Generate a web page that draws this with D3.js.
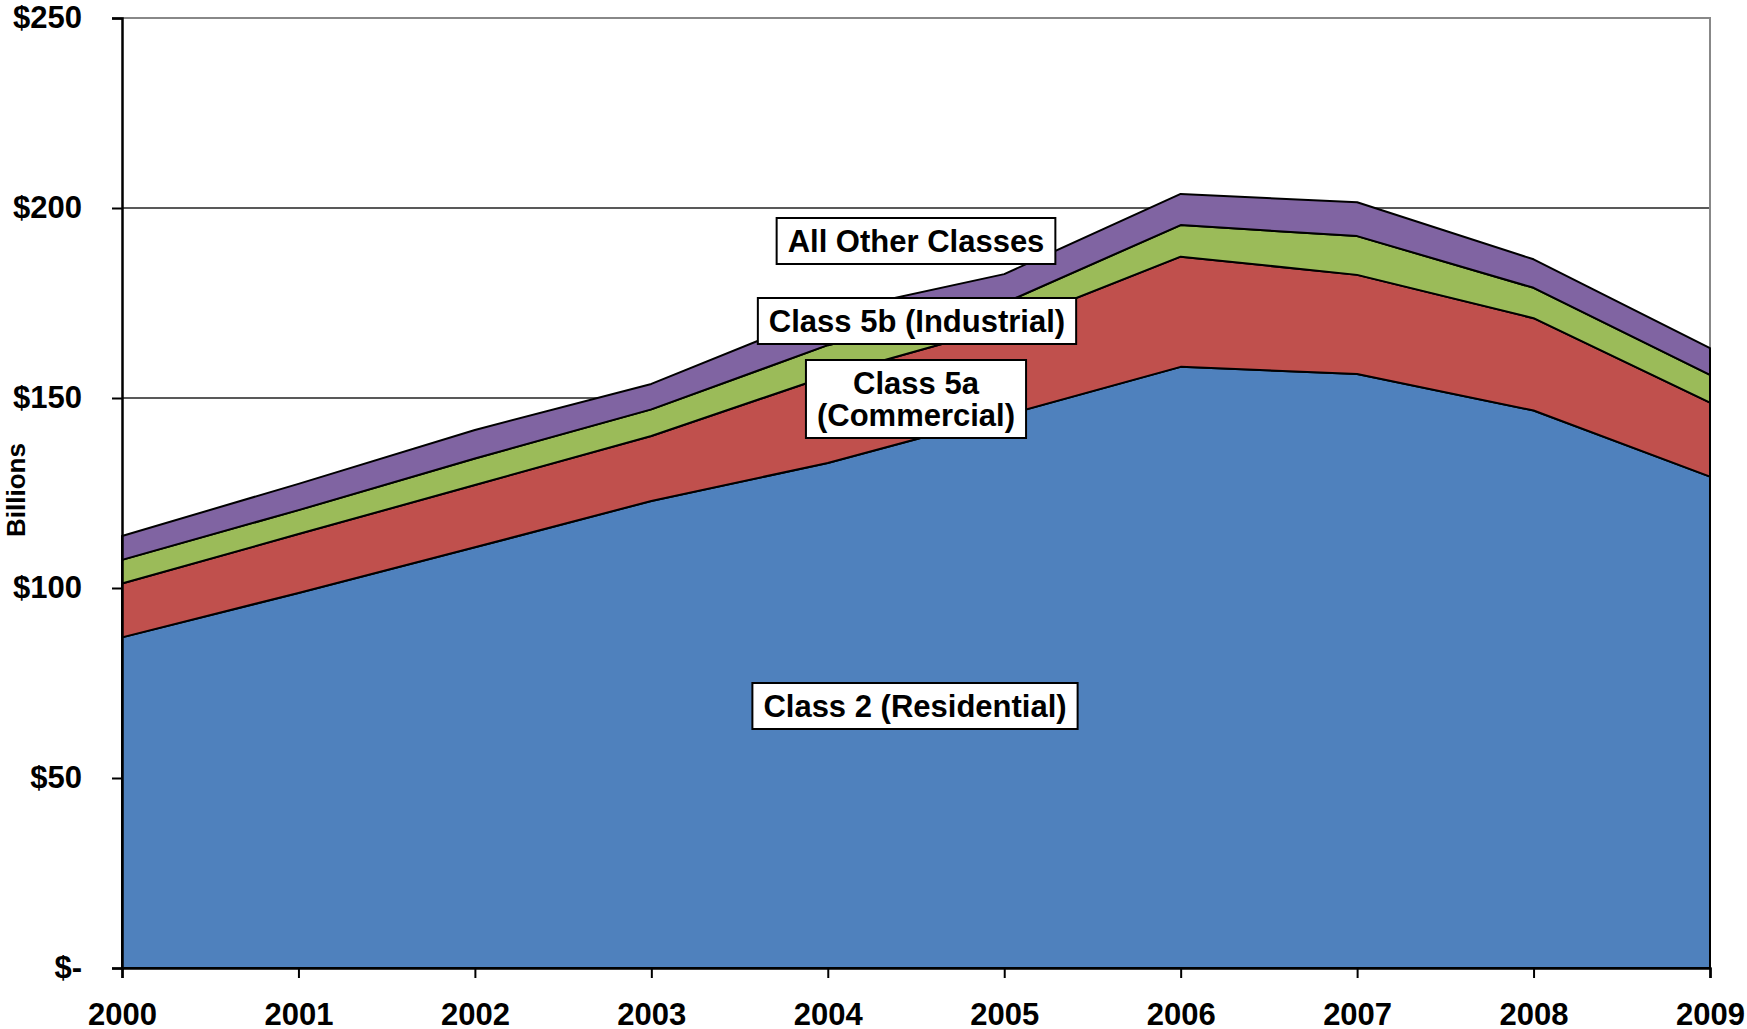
<!DOCTYPE html>
<html>
<head>
<meta charset="utf-8">
<script src="https://cdn.jsdelivr.net/npm/d3@7"></script>
<style>
  body { margin: 0; background: #fff; }
  text { font-family: "Liberation Sans", Arial, sans-serif; font-weight: bold; }
</style>
</head>
<body>
<div id="chart"></div>
<script>
// values, in $ billions
var years = [2000, 2001, 2002, 2003, 2004, 2005, 2006, 2007, 2008, 2009];
var residential = [87.0, 98.7, 110.7, 122.9, 132.9, 145.4, 158.2, 156.3, 146.7, 129.3];
var commercial  = [14.2, 15.5, 16.4, 17.1, 22.9, 23.4, 29.0, 26.1, 24.3, 19.5];
var industrial  = [6.2, 6.3, 7.0, 7.0, 8.1, 6.2, 8.3, 10.2, 8.0, 7.3];
var otherClasses = [6.3, 6.9, 7.5, 6.7, 8.6, 7.6, 8.2, 8.9, 7.5, 7.0];

var seriesKeys = ["residential", "commercial", "industrial", "other"];
var seriesColors = ["#4F81BD", "#C0504D", "#9BBB59", "#8064A2"];
var yTicks = [0, 50, 100, 150, 200, 250];

// chart size and plot box
var W = 1747, H = 1029;
var plot = {left: 122, right: 1710, top: 18, bottom: 968};

var svg = d3.select("#chart")
  .append("svg")
    .attr("width", W)
    .attr("height", H);

var x = d3.scaleLinear()
  .domain([years[0], years[years.length - 1]])
  .range([plot.left, plot.right]);

var y = d3.scaleLinear()
  .domain([0, 250])
  .range([plot.bottom, plot.top]);

// build rows for the stack
var rows = years.map(function(yr, i) {
  return {year: yr, residential: residential[i], commercial: commercial[i],
          industrial: industrial[i], other: otherClasses[i]};
});
var stacked = d3.stack().keys(seriesKeys)(rows);

// gridlines (behind the areas)
svg.append("g")
  .selectAll("line")
  .data(yTicks.filter(function(t) { return t > 0 && t < 250; }))
  .enter()
  .append("line")
    .attr("x1", plot.left)
    .attr("x2", plot.right)
    .attr("y1", function(d) { return y(d); })
    .attr("y2", function(d) { return y(d); })
    .attr("stroke", "#222")
    .attr("stroke-width", 1.3);

// top and right border in grey
svg.append("path")
  .attr("d", "M" + plot.left + "," + y(250) + "H" + plot.right + "V" + plot.bottom)
  .attr("fill", "none")
  .attr("stroke", "#888")
  .attr("stroke-width", 2);

// stacked areas
var area = d3.area()
  .x(function(d) { return x(d.data.year); })
  .y0(function(d) { return y(d[0]); })
  .y1(function(d) { return y(d[1]); });

svg.append("g")
  .selectAll("path")
  .data(stacked)
  .enter()
  .append("path")
    .attr("d", area)
    .attr("fill", function(d, i) { return seriesColors[i]; })
    .attr("stroke", "#000")
    .attr("stroke-width", 2)
    .attr("stroke-linejoin", "round");

// y axis
var yAxis = svg.append("g")
  .attr("transform", "translate(" + plot.left + ",0)")
  .call(d3.axisLeft(y)
    .tickValues(yTicks)
    .tickSize(10)
    .tickPadding(30)
    .tickFormat(function(d) { return d === 0 ? "$-" : "$" + d; }));
yAxis.select(".domain").attr("stroke", "#000").attr("stroke-width", 2.5);
yAxis.selectAll(".tick line").attr("stroke", "#000").attr("stroke-width", 2);
yAxis.selectAll(".tick text")
  .style("font-size", "31px")
  .attr("fill", "#000")
  .attr("font-family", "Liberation Sans, Arial, sans-serif")
  .attr("font-weight", "bold");

// x axis
var xAxis = svg.append("g")
  .attr("transform", "translate(0," + plot.bottom + ")")
  .call(d3.axisBottom(x)
    .tickValues(years)
    .tickSize(10)
    .tickPadding(25)
    .tickFormat(d3.format("d")));
xAxis.select(".domain").attr("stroke", "#000").attr("stroke-width", 2.5);
xAxis.selectAll(".tick line").attr("stroke", "#000").attr("stroke-width", 2);
xAxis.selectAll(".tick text")
  .style("font-size", "31px")
  .attr("fill", "#000")
  .attr("font-family", "Liberation Sans, Arial, sans-serif")
  .attr("font-weight", "bold");

// y axis title
svg.append("text")
  .attr("transform", "translate(25,490) rotate(-90)")
  .attr("text-anchor", "middle")
  .style("font-size", "26px")
  .text("Billions");

// boxed series labels
var labels = [
  {lines: ["All Other Classes"], cx: 916, cy: 241},
  {lines: ["Class 5b (Industrial)"], cx: 917, cy: 321},
  {lines: ["Class 5a", "(Commercial)"], cx: 916, cy: 399},
  {lines: ["Class 2 (Residential)"], cx: 915, cy: 706}
];
var lineH = 32;

labels.forEach(function(lab) {
  var g = svg.append("g");
  var box = g.append("rect")
    .attr("fill", "#fff")
    .attr("stroke", "#000")
    .attr("stroke-width", 2);
  var txt = g.append("text")
    .attr("text-anchor", "middle")
    .style("font-size", "31px");
  var n = lab.lines.length;
  lab.lines.forEach(function(s, i) {
    txt.append("tspan")
      .attr("x", lab.cx)
      .attr("y", lab.cy + (i - (n - 1) / 2) * lineH + 11)
      .text(s);
  });
  var bb = txt.node().getBBox();
  var bw = bb.width + 22, bh = n * lineH + 14;
  box.attr("x", lab.cx - bw / 2)
     .attr("y", lab.cy - bh / 2)
     .attr("width", bw)
     .attr("height", bh);
});
</script>
</body>
</html>
